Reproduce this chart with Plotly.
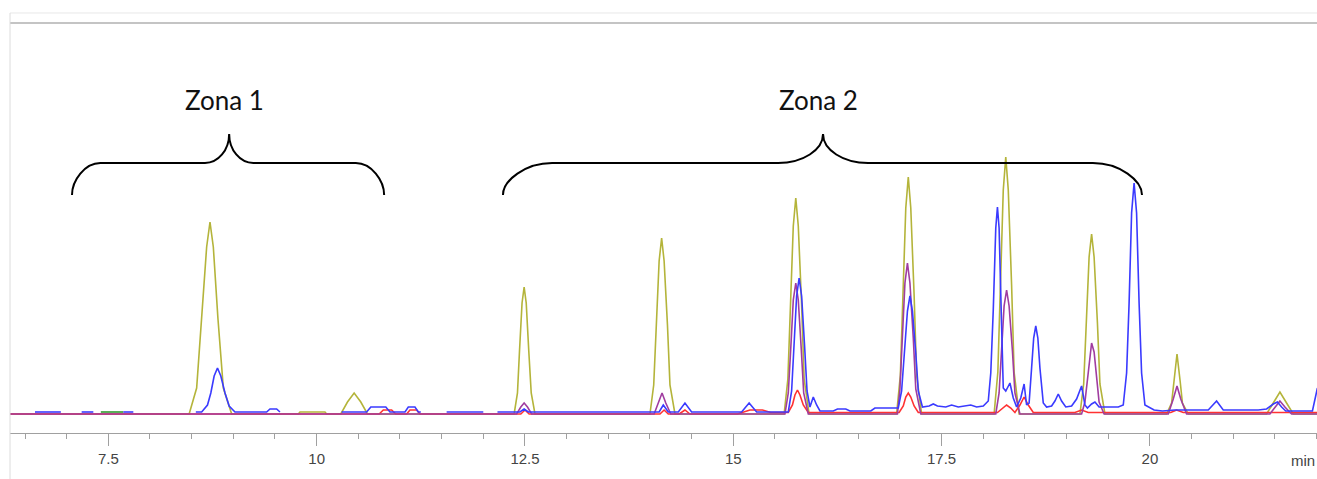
import plotly.graph_objects as go

# ---- data (time in min, detector signal in arbitrary units) ----
OLIVE_T = [6.32, 8.47, 8.56, 8.62, 8.68, 8.72, 8.76, 8.815, 8.88, 8.98, 9.78, 9.80, 10.10, 10.12,
           10.29, 10.37, 10.45, 10.53, 10.61,
           12.37, 12.41, 12.435, 12.465, 12.49, 12.515, 12.545, 12.575, 12.62,
           14.00, 14.045, 14.075, 14.11, 14.14, 14.17, 14.21, 14.24, 14.30,
           15.61, 15.655, 15.685, 15.72, 15.75, 15.78, 15.82, 15.85, 15.91,
           16.96, 17.005, 17.035, 17.07, 17.10, 17.13, 17.17, 17.20, 17.26,
           18.13, 18.175, 18.205, 18.24, 18.27, 18.30, 18.34, 18.37, 18.43,
           19.16, 19.205, 19.235, 19.27, 19.30, 19.33, 19.37, 19.40, 19.46,
           20.20, 20.26, 20.285, 20.325, 20.365, 20.39, 20.46,
           21.40, 21.48, 21.56, 21.64, 21.72, 22.01]
OLIVE_V = [-1, -1, 25, 95, 166, 191, 166, 95, 25, -1, -1, 1, 1, -1,
           -1, 11, 20, 11, -1,
           -1, 20, 63, 110, 126, 110, 63, 20, -1,
           -1, 28, 88, 152, 175, 152, 88, 28, -1,
           -1, 34, 108, 187, 215, 187, 108, 34, -1,
           -1, 38, 118, 205, 236, 205, 118, 38, -1,
           -1, 41, 128, 223, 256, 223, 128, 41, -1,
           -1, 29, 90, 156, 179, 156, 90, 29, -1,
           -1, 10, 30, 59, 30, 10, -1,
           -1, 10, 21, 10, -1, -1]

PURPLE_T = [6.32, 12.40, 12.45, 12.49, 12.53, 12.58,
            14.05, 14.10, 14.145, 14.19, 14.25,
            15.62, 15.66, 15.69, 15.72, 15.75, 15.78, 15.815, 15.845, 15.90,
            16.97, 17.00, 17.03, 17.06, 17.09, 17.12, 17.16, 17.19, 17.25,
            18.15, 18.19, 18.22, 18.25, 18.28, 18.31, 18.35, 18.38, 18.44,
            19.18, 19.22, 19.25, 19.28, 19.30, 19.33, 19.36, 19.39, 19.45,
            20.22, 20.28, 20.325, 20.37, 20.44,
            21.44, 21.50, 21.56, 21.62, 21.70, 22.01]
PURPLE_V = [-1, -1, 6, 10, 6, -1,
            -1, 10, 20, 10, -1,
            -1, 20, 65, 113, 130, 113, 65, 20, -1,
            -1, 24, 75, 130, 150, 130, 75, 24, -1,
            -1, 20, 62, 107, 123, 107, 62, 20, -1,
            -1, 11, 35, 61, 70, 61, 35, 11, -1,
            -1, 14, 27, 14, -1,
            -1, 6, 12, 6, -1, -1]

RED_T = [6.32, 10.75, 10.80, 10.90, 10.95, 11.08, 11.12, 11.20, 11.24,
         12.45, 12.50, 12.55, 14.12, 14.17, 14.22, 14.35, 14.42, 14.48,
         15.05, 15.10, 15.20, 15.35, 15.45,
         15.66, 15.71, 15.74, 15.77, 15.80, 15.84, 15.90,
         16.99, 17.04, 17.07, 17.10, 17.13, 17.17, 17.22,
         18.17, 18.23, 18.28, 18.33, 18.38,
         18.44, 18.49, 18.54, 18.60,
         19.10, 19.18, 19.26, 20.25, 20.32, 20.40, 22.01]
RED_V = [-1, -1, 3, 3, -1, -1, 3, 3, -1,
         -1, 3, -1, -1, 3, -1, -1, 3, -1,
         -1, 0.5, 3, 3, 0.5,
         0.5, 8, 18, 23, 18, 8, 0.5,
         0.5, 7, 16, 20, 16, 7, 0.5,
         0.5, 5, 8, 5, 0.5,
         8, 16, 8, 0.5,
         0.5, 3, 0.5, 0.5, 3, 0.5, 0.5]

GREEN_T = [7.41, 7.68]
GREEN_V = [1, 1]

BLUE_T = [6.62, 6.93, 6.94, 7.18, 7.32, 7.33, 7.68, 7.80, 7.81,
          8.55, 8.62, 8.69, 8.73, 8.77, 8.81, 8.85, 8.90, 8.95, 9.02, 9.40, 9.44, 9.52, 9.56, 9.57,
          10.30, 10.60, 10.65, 10.83, 10.88, 11.06, 11.10, 11.18, 11.22, 11.25, 11.26,
          11.56, 12.00, 12.01,
          12.17, 12.44, 12.49, 12.54, 14.11, 14.16, 14.22, 14.34, 14.42, 14.50,
          15.10, 15.19, 15.28,
          15.66, 15.70, 15.73, 15.76, 15.79, 15.82, 15.855, 15.885, 15.92, 15.96, 16.00, 16.04,
          16.20, 16.25, 16.35, 16.40, 16.65, 16.70, 16.85,
          16.98, 17.02, 17.05, 17.09, 17.12, 17.15, 17.19, 17.22, 17.27,
          17.35, 17.40, 17.45, 17.55, 17.62, 17.70, 17.78, 17.85, 17.92, 18.00,
          18.06, 18.09, 18.12, 18.15, 18.17, 18.19, 18.215, 18.24, 18.27, 18.32, 18.36, 18.40,
          18.45, 18.49, 18.52, 18.55, 18.58, 18.605, 18.63, 18.655, 18.68, 18.72, 18.76,
          18.82, 18.86, 18.90, 18.94, 18.99, 19.06, 19.12, 19.18, 19.22, 19.25, 19.30, 19.34, 19.39,
          19.50, 19.62, 19.68, 19.72, 19.75, 19.78, 19.81, 19.84, 19.87, 19.90, 19.94,
          20.00, 20.05, 20.15, 20.30, 20.50, 20.70, 20.80, 20.88,
          21.30, 21.40, 21.48, 21.53, 21.58, 21.63, 21.95, 22.01]
BLUE_V = [1, 1, None, 1, 1, None, 1, 1, None,
          1, 1, 8, 20, 37, 45, 37, 20, 7, 1, 1, 4, 4, 1, None,
          1, 1, 6, 6, 1, 1, 6, 6, 1, 1, None,
          1, 1, None,
          1, 1, 4, 1, 1, 8, 1, 1, 10, 1,
          1, 10, 1,
          1, 22, 68, 117, 135, 117, 68, 22, 6, 16, 8, 2,
          2, 4, 4, 2, 2, 5, 5,
          5, 22, 60, 102, 117, 102, 60, 22, 6,
          7, 9, 7, 6, 8, 6, 7, 8, 6, 7,
          12, 40, 103, 185, 206, 185, 103, 25, 22, 30, 15, 6,
          15, 29, 8, 10, 45, 75, 87, 75, 45, 10, 6,
          7, 12, 19, 12, 6, 7, 14, 27, 8, 5, 9, 11, 6,
          6, 6, 8, 40, 110, 200, 230, 200, 110, 40, 8,
          5, 3, 2, 3, 3, 3, 12, 3,
          3, 4, 9, 11, 6, 2, 2, 25]

TICK_VALS = [7.5, 10, 12.5, 15, 17.5, 20]
TICK_TEXT = ["7.5", "10", "12.5", "15", "17.5", "20"]

ZONES = [  # label, left end, tip, right end (min), end radius, tip radius (min)
    ("Zona 1", 7.064, 8.95, 10.81, 0.34, 0.29),
    ("Zona 2", 12.236, 16.077, 19.905, 0.59, 0.54),
]
BRACE_END_Y, BRACE_BAR_Y, BRACE_TIP_Y, LABEL_Y = 218, 250, 279, 313

COLORS = {"olive": "#b4b43a", "red": "#ff3232", "purple": "#a03ca0",
          "green": "#2f9a2f", "blue": "#3a3aff"}

fig = go.Figure()
for name, t, v in [("olive", OLIVE_T, OLIVE_V), ("red", RED_T, RED_V),
                   ("purple", PURPLE_T, PURPLE_V), ("green", GREEN_T, GREEN_V),
                   ("blue", BLUE_T, BLUE_V)]:
    fig.add_trace(go.Scatter(x=t, y=v, mode="lines", name=name,
                             line=dict(color=COLORS[name], width=1.6),
                             connectgaps=False, hoverinfo="skip"))

shapes = []
annotations = []
for label, xl, xt, xr, a, b in ZONES:
    ye, yb, yt = BRACE_END_Y, BRACE_BAR_Y, BRACE_TIP_Y
    k = 0.55
    path = (f"M {xl},{ye} C {xl},{yb - k*(yb-ye)} {xl + a - k*a},{yb} {xl + a},{yb} "
            f"L {xt - b},{yb} C {xt - b + k*b},{yb} {xt},{yt - k*(yt-yb)} {xt},{yt} "
            f"C {xt},{yt - k*(yt-yb)} {xt + b - k*b},{yb} {xt + b},{yb} "
            f"L {xr - a},{yb} C {xr - a + k*a},{yb} {xr},{yb - k*(yb-ye)} {xr},{ye}")
    shapes.append(dict(type="path", path=path, xref="x", yref="y",
                       line=dict(color="#000000", width=2)))
    annotations.append(dict(x=xt - 0.05, y=LABEL_Y, xref="x", yref="y", text=label,
                            showarrow=False, xanchor="center", yanchor="middle",
                            font=dict(family="Lato, Open Sans, sans-serif", size=26,
                                      color="#111111")))

# frame lines of the screenshot
shapes += [
    dict(type="line", xref="paper", yref="paper", x0=0, x1=1, y0=1.0, y1=1.0,
         line=dict(color="#c4c4c4", width=2)),
    dict(type="line", xref="paper", yref="paper", x0=0, x1=1, y0=1.0244, y1=1.0244,
         line=dict(color="#e8e8e8", width=1)),
    dict(type="line", xref="paper", yref="paper", x0=0, x1=0, y0=-0.12, y1=1.0244,
         line=dict(color="#dcdcdc", width=1)),
]
annotations.append(dict(x=1.0, y=-0.066, xref="paper", yref="paper", text="min",
                        showarrow=False, xanchor="right", yanchor="middle",
                        font=dict(family="Liberation Sans Narrow, Liberation Sans, Arial",
                                  size=15, color="#444444")))

fig.update_layout(
    width=1317, height=479,
    margin=dict(l=10, r=0, t=23, b=46),
    paper_bgcolor="white", plot_bgcolor="white",
    showlegend=False,
    shapes=shapes, annotations=annotations,
    xaxis=dict(range=[6.32, 22.005], showgrid=False, zeroline=False,
               showline=True, linecolor="#a0a0a0", linewidth=1,
               ticks="outside", ticklen=12, tickcolor="#a0a0a0", tickwidth=1,
               tickvals=TICK_VALS, ticktext=TICK_TEXT,
               tickfont=dict(family="Liberation Sans Narrow, Liberation Sans, Arial",
                             size=15, color="#444444"),
               minor=dict(dtick=0.5, tick0=0, ticks="outside", ticklen=5,
                          tickcolor="#a0a0a0", tickwidth=1, showgrid=False),
               fixedrange=True),
    yaxis=dict(range=[-20, 390], visible=False, fixedrange=True),
)

fig.write_html("out.html", config={"displayModeBar": False},
               post_script="document.body.style.margin='0';document.body.style.padding='0';"
                           "document.documentElement.style.overflow='hidden';")
